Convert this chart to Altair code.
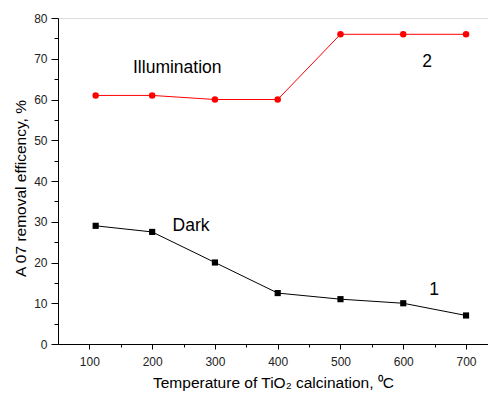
import altair as alt
import pandas as pd

temps = [110, 200, 300, 400, 500, 600, 700]
illumination = [61, 61, 60, 60, 76, 76, 76]
dark = [29, 27.5, 20, 12.5, 11, 10, 7]

ann_text = ["Illumination", "Dark", "1", "2"]
ann_x = [240, 262, 649, 638]
ann_y = [67.8, 29.0, 13.2, 69.2]

df_i = pd.DataFrame({"t": temps, "v": illumination})
df_d = pd.DataFrame({"t": temps, "v": dark})
df_a = pd.DataFrame({"label": ann_text, "t": ann_x, "v": ann_y})

FONT = "Liberation Sans"

xscale = alt.Scale(domain=[50, 735], nice=False, zero=False)
yscale = alt.Scale(domain=[0, 80], nice=False)

xaxis = alt.Axis(
    title="Temperature of TiO\u2082 calcination, \u2070C",
    values=list(range(100, 701, 50)),
    labelExpr="datum.value % 100 === 0 ? datum.label : ''",
    tickSize={"expr": "datum.value % 100 === 0 ? 5 : 3"},
    grid=False, domainColor="black", tickColor="black",
    labelFont=FONT, labelFontSize=12, labelColor="#222222", labelPadding=7,
    titleFont=FONT, titleFontSize=15.5, titleFontWeight="normal", titleColor="black",
    titlePadding=8, labelFlush=False,
)
yaxis = alt.Axis(
    title="A 07 removal efficency, %",
    values=list(range(0, 81, 5)),
    labelExpr="datum.value % 10 === 0 ? datum.label : ''",
    tickSize={"expr": "datum.value % 10 === 0 ? 7 : 4"},
    grid=False, domainColor="black", tickColor="black",
    labelFont=FONT, labelFontSize=12, labelColor="#222222", labelPadding=4,
    titleFont=FONT, titleFontSize=15.5, titleFontWeight="normal", titleColor="black",
    titlePadding=5, titleY=170, labelFlush=False,
)

x = alt.X("t:Q", scale=xscale, axis=xaxis)
y = alt.Y("v:Q", scale=yscale, axis=yaxis)

red = "#ff0000"
line_i = alt.Chart(df_i).mark_line(color=red, strokeWidth=1).encode(x=x, y=y)
pts_i = alt.Chart(df_i).mark_point(shape="circle", filled=True, color=red, size=42, opacity=1).encode(x=x, y=y)
line_d = alt.Chart(df_d).mark_line(color="black", strokeWidth=1).encode(x=x, y=y)
pts_d = alt.Chart(df_d).mark_point(shape="square", filled=True, color="black", size=38, opacity=1).encode(x=x, y=y)
text = alt.Chart(df_a).mark_text(font=FONT, fontSize=17.5, color="black").encode(x=x, y=y, text="label:N")

chart = alt.layer(line_i, line_d, pts_i, pts_d, text).properties(
    width=430, height=326,
    autosize=alt.AutoSizeParams(type="none"),
    padding={"left": 50, "top": 10, "right": 0, "bottom": 48},
).configure_view(stroke=None).configure(background="white")

chart.save("out.html", embed_options={"renderer": "svg", "actions": False})
